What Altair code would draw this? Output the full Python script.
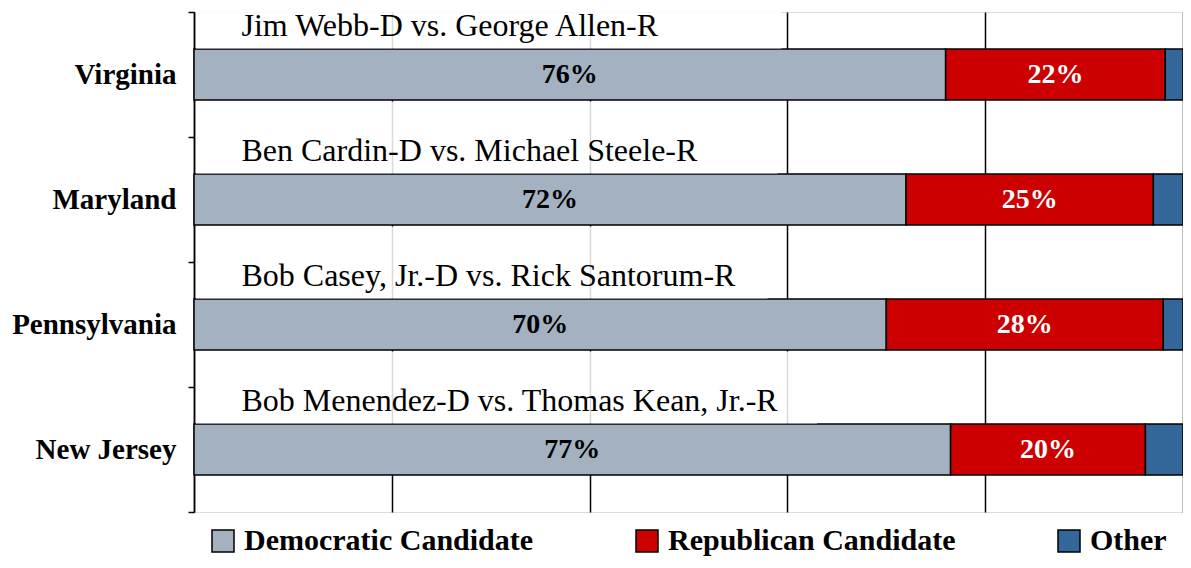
import altair as alt
import pandas as pd

states = ["Virginia", "Maryland", "Pennsylvania", "New Jersey"]
matchups = [
    "Jim Webb-D vs. George Allen-R",
    "Ben Cardin-D vs. Michael Steele-R",
    "Bob Casey, Jr.-D vs. Rick Santorum-R",
    "Bob Menendez-D vs. Thomas Kean, Jr.-R",
]
parties = ["Democratic Candidate", "Republican Candidate", "Other"]
colors = ["#A3B1C0", "#CC0000", "#336699"]
dem = [76.0, 72.0, 70.0, 76.5]
rep = [22.2, 25.0, 28.0, 19.7]
other = [1.8, 3.0, 2.0, 3.8]
dem_labels = ["76%", "72%", "70%", "77%"]
rep_labels = ["22%", "25%", "28%", "20%"]
box_end = [59.4, 59.0, 58.0, 63.0]
grid_values = [0, 20, 40, 60, 80, 100]

FONT = "Liberation Serif"

rows = []
for i, s in enumerate(states):
    start = 0.0
    for p, v in zip(parties, [dem[i], rep[i], other[i]]):
        rows.append({"state": s, "party": p, "start": start, "end": start + v})
        start += v
bars_df = pd.DataFrame(rows)

lab_rows = []
for i, s in enumerate(states):
    lab_rows.append({"state": s, "mid": dem[i] / 2, "label": dem_labels[i], "kind": "dem"})
    lab_rows.append({"state": s, "mid": dem[i] + rep[i] / 2, "label": rep_labels[i], "kind": "rep"})
labels_df = pd.DataFrame(lab_rows)

match_df = pd.DataFrame({"state": states, "matchup": matchups, "box_end": box_end,
                         "box_start": [0.2] * 4, "text_x": [4.8] * 4})

y_enc = alt.Y(
    "state:N",
    sort=states,
    scale=alt.Scale(domain=states, paddingInner=0, paddingOuter=0),
    axis=alt.Axis(
        title=None,
        domainColor="black",
        domainWidth=1.5,
        tickColor="black",
        tickWidth=1.5,
        tickSize=6,
        tickBand="extent",
        labelFont=FONT,
        labelFontSize=29,
        labelFontWeight="bold",
        labelColor="black",
        labelPadding=12,
        grid=False,
    ),
)

x_scale = alt.Scale(domain=[0, 100], nice=False, zero=True)

bars = alt.Chart(bars_df).mark_bar(size=51, stroke="black", strokeWidth=1.5).encode(
    x=alt.X(
        "start:Q",
        scale=x_scale,
        axis=alt.Axis(
            title=None,
            values=grid_values,
            grid=True,
            gridColor="black",
            gridWidth=1.5,
            gridOpacity=1,
            labels=False,
            ticks=False,
            domain=False,
        ),
    ),
    x2="end:Q",
    y=y_enc,
    color=alt.Color(
        "party:N",
        scale=alt.Scale(domain=parties, range=colors),
        legend=alt.Legend(
            orient="none",
            legendX=14,
            legendY=514,
            direction="horizontal",
            title=None,
            symbolType="square",
            symbolSize=484,
            symbolStrokeColor="black",
            symbolStrokeWidth=1.5,
            symbolOpacity=1,
            labelFont=FONT,
            labelFontSize=30,
            labelFontWeight="bold",
            labelColor="black",
            labelLimit=600,
            labelOffset=6,
            columnPadding=98,
        ),
    ),
    order=alt.Order("start:Q"),
)

boxes = alt.Chart(match_df).mark_bar(
    size=72, yOffset=-62, color="white", opacity=0.85, clip=True
).encode(
    x=alt.X("box_start:Q", scale=x_scale),
    x2="box_end:Q",
    y=alt.Y("state:N", sort=states),
)

match_text = alt.Chart(match_df).mark_text(
    align="left", baseline="middle", font=FONT, fontSize=32, color="black", yOffset=-49
).encode(
    x=alt.X("text_x:Q", scale=x_scale),
    y=alt.Y("state:N", sort=states),
    text="matchup:N",
)

dem_text = alt.Chart(labels_df).transform_filter(alt.datum.kind == "dem").mark_text(
    font=FONT, fontSize=28, fontWeight="bold", color="black", baseline="middle"
).encode(
    x=alt.X("mid:Q", scale=x_scale),
    y=alt.Y("state:N", sort=states),
    text="label:N",
)

rep_text = alt.Chart(labels_df).transform_filter(alt.datum.kind == "rep").mark_text(
    font=FONT, fontSize=28, fontWeight="bold", color="white", baseline="middle"
).encode(
    x=alt.X("mid:Q", scale=x_scale),
    y=alt.Y("state:N", sort=states),
    text="label:N",
)

chart = alt.layer(bars, boxes, match_text, dem_text, rep_text).properties(
    width=989,
    height=500,
    autosize=alt.AutoSizeParams(type="none"),
    padding={"left": 186, "top": 4, "right": 0, "bottom": 48},
).configure_view(strokeWidth=0).configure(background="white")

chart.save("out.html", embed_options={"renderer": "svg", "actions": False})
